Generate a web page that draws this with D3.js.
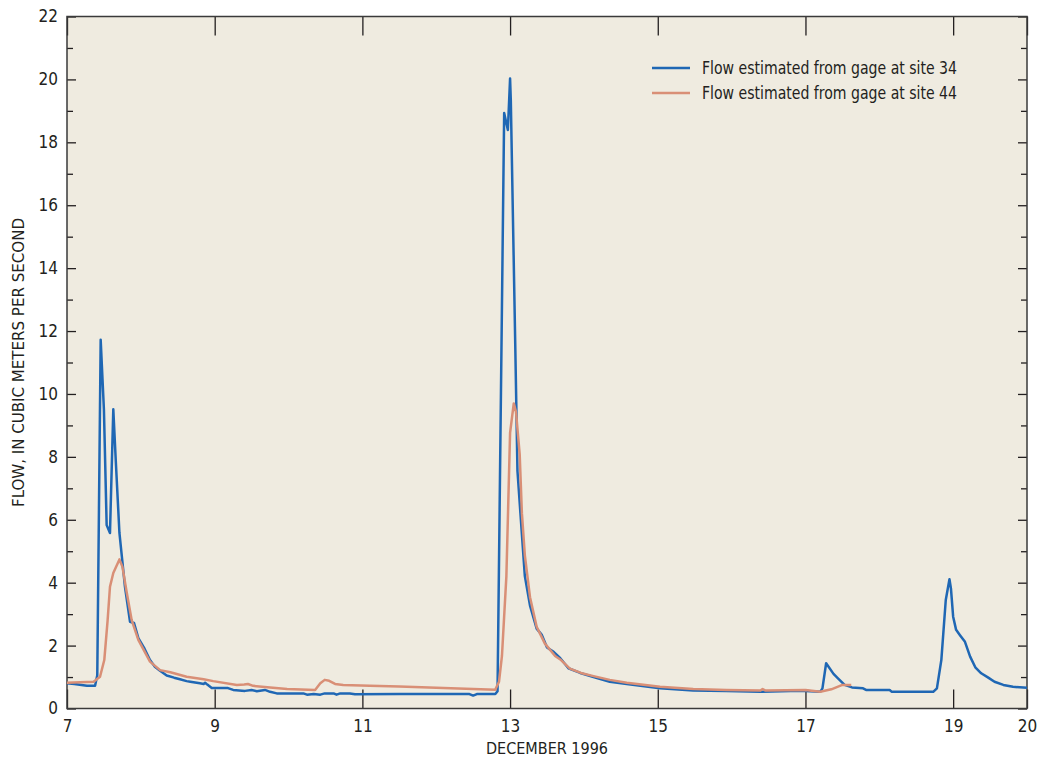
<!DOCTYPE html>
<html><head><meta charset="utf-8">
<script src="https://cdn.jsdelivr.net/npm/d3@7"></script>
<style>
html,body{margin:0;padding:0;background:#fff;}
svg text{font-family:"Liberation Sans Narrow","Arial Narrow","DejaVu Sans Condensed",sans-serif;fill:#231f20;}
</style></head>
<body>
<svg id="chart" width="1039" height="760"></svg>
<script>
// Day of December 1996 (fractional)
const site34Days = [7.00,7.10,7.27,7.38,7.41,7.456,7.50,7.537,7.582,7.627,7.66,7.71,7.785,7.853,7.907,7.966,8.05,8.124,8.19,8.26,8.35,8.45,8.53,8.62,8.67,8.80,8.85,8.87,8.90,8.96,9.18,9.25,9.41,9.50,9.57,9.68,9.75,9.84,10.20,10.25,10.34,10.43,10.49,10.61,10.65,10.70,10.83,10.90,11.5,12.0,12.45,12.50,12.55,12.80,12.83,12.92,12.97,13.00,13.01,13.07,13.10,13.14,13.20,13.27,13.36,13.43,13.50,13.59,13.68,13.79,13.95,14.13,14.35,14.58,15.03,15.48,15.93,16.39,16.80,17.00,17.20,17.23,17.28,17.38,17.44,17.53,17.63,17.78,17.82,18.14,18.17,18.73,18.78,18.84,18.90,18.95,18.97,19.00,19.04,19.09,19.16,19.23,19.30,19.38,19.47,19.56,19.68,19.81,20.00];
const site34Flow = [0.80,0.78,0.72,0.72,1.06,11.72,9.5,5.83,5.58,9.51,7.9,5.58,3.87,2.76,2.72,2.24,1.90,1.54,1.33,1.20,1.05,0.98,0.93,0.87,0.85,0.80,0.78,0.82,0.76,0.65,0.65,0.59,0.56,0.59,0.55,0.59,0.53,0.48,0.48,0.44,0.46,0.44,0.48,0.48,0.44,0.48,0.48,0.45,0.46,0.46,0.46,0.41,0.46,0.46,0.55,18.93,18.39,20.03,19.33,11.57,7.55,6.21,4.21,3.27,2.54,2.34,1.94,1.80,1.60,1.28,1.13,1.00,0.85,0.78,0.64,0.57,0.56,0.53,0.56,0.56,0.53,0.64,1.44,1.10,0.96,0.75,0.67,0.64,0.59,0.59,0.53,0.53,0.64,1.54,3.45,4.11,3.82,2.92,2.50,2.34,2.12,1.65,1.31,1.12,0.99,0.85,0.75,0.69,0.66];

const site44Days = [7.00,7.36,7.447,7.505,7.55,7.582,7.627,7.71,7.75,7.81,7.876,7.966,8.124,8.26,8.40,8.62,8.85,8.98,9.30,9.40,9.45,9.52,9.75,9.98,10.36,10.43,10.49,10.55,10.63,10.74,11.10,11.5,12.0,12.5,12.80,12.85,12.89,12.95,13.00,13.05,13.08,13.13,13.16,13.20,13.27,13.36,13.47,13.61,13.68,13.81,13.96,14.13,14.35,14.58,15.03,15.48,15.93,16.39,16.42,16.46,17.00,17.20,17.35,17.50,17.62];
const site44Flow = [0.82,0.85,1.01,1.54,2.8,3.87,4.31,4.74,4.51,3.67,2.81,2.18,1.49,1.22,1.15,1.01,0.93,0.87,0.75,0.76,0.78,0.72,0.67,0.62,0.59,0.80,0.91,0.88,0.78,0.75,0.72,0.70,0.66,0.62,0.60,0.85,1.67,4.21,8.76,9.70,9.43,8.09,6.21,4.87,3.54,2.60,2.07,1.67,1.56,1.27,1.13,1.03,0.91,0.82,0.69,0.62,0.59,0.57,0.62,0.57,0.59,0.53,0.61,0.75,0.75];

const xTickLabels = [7,9,11,13,15,17,19,20];
const yMajorTicks = [0,2,4,6,8,10,12,14,16,18,20,22];
const yMinorTicks = [1,3,5,7,9,11,13,15,17,19,21];
const seriesNames = ["Flow estimated from gage at site 34","Flow estimated from gage at site 44"];
const seriesColors = ["#1f67b4","#d98f76"];

const svg = d3.select("#chart");
const m = {left:67, right:1027, top:16.5, bottom:708.5};
const x = d3.scaleLinear().domain([7,20]).range([m.left,m.right]);
const y = d3.scaleLinear().domain([0,22]).range([m.bottom,m.top]);

svg.append("rect").attr("x",m.left).attr("y",m.top)
  .attr("width",m.right-m.left).attr("height",m.bottom-m.top)
  .attr("fill","#efebe0");

function styleAxis(g){
  g.select(".domain").remove();
  g.selectAll(".tick line").attr("stroke","#231f20").attr("stroke-width",1.3);
  g.selectAll("text").style("font-size","17px").attr("fill","#231f20");
}

// y axis left
svg.append("g").attr("transform",`translate(${m.left},0)`)
  .call(d3.axisLeft(y).tickValues(yMajorTicks).tickSize(-9).tickPadding(9).tickFormat(d3.format("d")))
  .call(styleAxis);
svg.append("g").attr("transform",`translate(${m.left},0)`)
  .call(d3.axisLeft(y).tickValues(yMinorTicks).tickSize(-6).tickFormat(""))
  .call(styleAxis);
// y axis right
svg.append("g").attr("transform",`translate(${m.right},0)`)
  .call(d3.axisRight(y).tickValues(yMajorTicks).tickSize(-9).tickFormat(""))
  .call(styleAxis);
svg.append("g").attr("transform",`translate(${m.right},0)`)
  .call(d3.axisRight(y).tickValues(yMinorTicks).tickSize(-6).tickFormat(""))
  .call(styleAxis);
// x axis bottom
svg.append("g").attr("transform",`translate(0,${m.bottom})`)
  .call(d3.axisBottom(x).tickValues(xTickLabels).tickSize(-19).tickPadding(11).tickFormat(d3.format("d")))
  .call(styleAxis);
// x axis top
svg.append("g").attr("transform",`translate(0,${m.top})`)
  .call(d3.axisTop(x).tickValues(xTickLabels).tickSize(-19).tickFormat(""))
  .call(styleAxis);

// frame
svg.append("rect").attr("x",m.left).attr("y",m.top)
  .attr("width",m.right-m.left).attr("height",m.bottom-m.top)
  .attr("fill","none").attr("stroke","#3a3a3a").attr("stroke-width",1.5);

// lines
const line = d3.line().x(d=>x(d[0])).y(d=>y(d[1]));
const series = [
  d3.zip(site34Days, site34Flow),
  d3.zip(site44Days, site44Flow)
];
series.forEach((s,i)=>{
  svg.append("path").datum(s).attr("d",line)
    .attr("fill","none").attr("stroke",seriesColors[i])
    .attr("stroke-width",2.5).attr("stroke-linejoin","round");
});

// legend
const lg = svg.append("g");
seriesNames.forEach((n,i)=>{
  const yy = 68 + i*25;
  lg.append("line").attr("x1",652).attr("x2",690).attr("y1",yy).attr("y2",yy)
    .attr("stroke",seriesColors[i]).attr("stroke-width",2.5);
  lg.append("text").attr("x",702).attr("y",yy+6).style("font-size","17px")
    .attr("textLength",255).attr("lengthAdjust","spacingAndGlyphs").text(n);
});

// axis titles
svg.append("text").attr("x",(m.left+m.right)/2).attr("y",754)
  .attr("text-anchor","middle").style("font-size","16px").text("DECEMBER 1996");
svg.append("text").attr("transform",`translate(24,${(m.top+m.bottom)/2}) rotate(-90)`)
  .attr("text-anchor","middle").style("font-size","16px")
  .attr("textLength",289).attr("lengthAdjust","spacingAndGlyphs")
  .text("FLOW, IN CUBIC METERS PER SECOND");
</script>
</body></html>
